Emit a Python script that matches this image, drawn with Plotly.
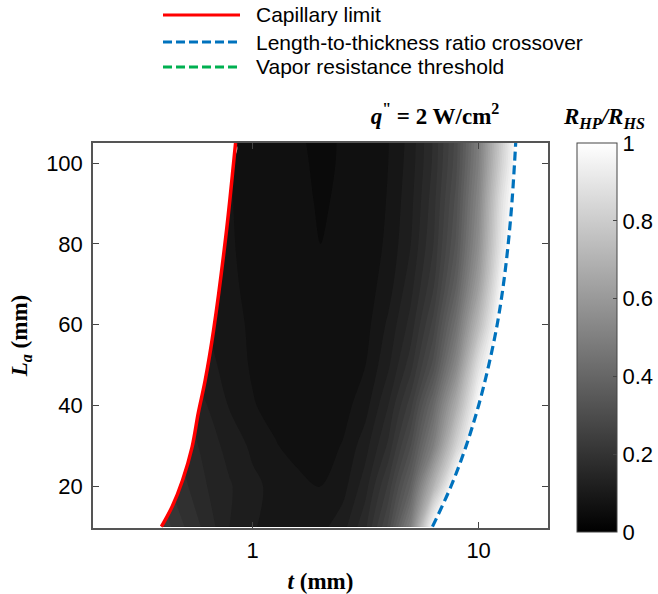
import plotly.graph_objects as go

# ---------------- data ----------------
t_mm = [0.2, 0.25, 0.32, 0.4, 0.5, 0.63, 0.79, 1.0, 1.26, 1.58, 2.0, 2.51, 3.16,
        3.98, 5.01, 6.31, 7.94, 10.0, 12.6, 15.8, 20.0]
La_mm = [10, 20, 30, 40, 50, 60, 70, 80, 90, 100, 105]

ratio_L10 = [0.26, 0.26, 0.25, 0.24, 0.20, 0.165, 0.125, 0.102, 0.092, 0.088, 0.092, 0.115, 0.17, 0.28, 0.50, 1.0, 1.2, 1.2, 1.2, 1.2, 1.2]
ratio_L20 = [0.23, 0.23, 0.22, 0.21, 0.18, 0.15, 0.128, 0.106, 0.093, 0.083, 0.074, 0.09, 0.14, 0.23, 0.38, 0.70, 1.05, 1.2, 1.2, 1.2, 1.2]
ratio_L30 = [0.2, 0.2, 0.2, 0.19, 0.165, 0.14, 0.115, 0.095, 0.077, 0.065, 0.062, 0.077, 0.115, 0.18, 0.30, 0.50, 0.82, 1.1, 1.2, 1.2, 1.2]
ratio_L40 = [0.17, 0.17, 0.17, 0.165, 0.15, 0.125, 0.098, 0.077, 0.066, 0.06, 0.058, 0.065, 0.09, 0.15, 0.24, 0.41, 0.67, 1.0, 1.15, 1.2, 1.2]
ratio_L50 = [0.15, 0.15, 0.15, 0.145, 0.13, 0.11, 0.088, 0.072, 0.062, 0.056, 0.054, 0.058, 0.075, 0.12, 0.19, 0.31, 0.53, 0.88, 1.1, 1.2, 1.2]
ratio_L60 = [0.13, 0.13, 0.13, 0.125, 0.115, 0.1, 0.085, 0.07, 0.06, 0.054, 0.052, 0.055, 0.066, 0.105, 0.16, 0.26, 0.44, 0.73, 1.05, 1.2, 1.2]
ratio_L70 = [0.12, 0.12, 0.12, 0.115, 0.105, 0.095, 0.08, 0.068, 0.058, 0.053, 0.051, 0.053, 0.062, 0.088, 0.14, 0.22, 0.37, 0.62, 0.97, 1.15, 1.2]
ratio_L80 = [0.11, 0.11, 0.11, 0.105, 0.1, 0.09, 0.078, 0.066, 0.057, 0.052, 0.05, 0.052, 0.06, 0.08, 0.125, 0.2, 0.33, 0.56, 0.91, 1.15, 1.2]
ratio_L90 = [0.1, 0.1, 0.1, 0.1, 0.095, 0.088, 0.077, 0.065, 0.058, 0.055, 0.048, 0.053, 0.058, 0.077, 0.118, 0.19, 0.31, 0.53, 0.88, 1.12, 1.2]
ratio_L100 = [0.095, 0.095, 0.095, 0.095, 0.09, 0.085, 0.076, 0.064, 0.057, 0.054, 0.046, 0.052, 0.057, 0.075, 0.112, 0.18, 0.29, 0.5, 0.82, 1.1, 1.2]
ratio_L105 = [0.095, 0.095, 0.095, 0.09, 0.088, 0.083, 0.075, 0.064, 0.057, 0.053, 0.045, 0.052, 0.056, 0.074, 0.11, 0.178, 0.285, 0.49, 0.8, 1.1, 1.2]

# Capillary limit (red solid)
cap_t = [0.395, 0.441, 0.49, 0.54, 0.575, 0.617, 0.672, 0.767, 0.824, 0.841]
cap_L = [10, 15, 21.5, 29.7, 38.1, 46.2, 58.6, 83.4, 100, 105]

# Length-to-thickness ratio crossover (blue dashed)
cross_t = [6.25, 7.55, 8.81, 10.0, 11.09, 12.08, 12.88, 13.52, 14.03, 14.42, 14.59]
cross_L = [10, 20, 30, 40, 50, 60, 70, 80, 90, 100, 105]

cbar_ticks = [0, 0.2, 0.4, 0.6, 0.8, 1]
cbar_ticktext = ["0", "0.2", "0.4", "0.6", "0.8", "1"]
x_ticks = [1, 10]
x_ticktext = ["1", "10"]
y_ticks = [20, 40, 60, 80, 100]

legend_labels = ["Capillary limit", "Length-to-thickness ratio crossover",
                 "Vapor resistance threshold"]
legend_colors = ["#FF0000", "#0072BD", "#00B050"]
legend_dash = ["solid", "9px,4px", "9px,4px"]

# ---------------- figure ----------------
z = [ratio_L10, ratio_L20, ratio_L30, ratio_L40, ratio_L50, ratio_L60,
     ratio_L70, ratio_L80, ratio_L90, ratio_L100, ratio_L105]

gray = [[0, "rgb(0,0,0)"], [1, "rgb(255,255,255)"]]

SANS = "Liberation Sans, Arial, sans-serif"
SERIF = "Liberation Serif, Times New Roman, serif"

fig = go.Figure()
fig.add_trace(go.Contour(
    x=t_mm, y=La_mm, z=z,
    colorscale=gray, zmin=0, zmax=1, zauto=False,
    contours=dict(start=0, end=1, size=0.025, coloring="fill", showlines=False),
    line=dict(width=0, smoothing=1),
    showscale=False, hoverinfo="skip",
))

# white masks outside the valid region
fig.add_trace(go.Scatter(
    x=cap_t + [0.1, 0.1], y=cap_L + [cap_L[-1] + 10, cap_L[0] - 10],
    fill="toself", fillcolor="white", line=dict(width=0, shape="spline"), mode="lines",
    showlegend=False, hoverinfo="skip"))
fig.add_trace(go.Scatter(
    x=cross_t + [40, 40], y=cross_L + [cross_L[-1] + 10, cross_L[0] - 10],
    fill="toself", fillcolor="white", line=dict(width=0), mode="lines",
    showlegend=False, hoverinfo="skip"))

fig.add_trace(go.Scatter(x=cap_t, y=cap_L, mode="lines", name=legend_labels[0],
                         line=dict(color=legend_colors[0], width=3.5, shape="spline"),
                         showlegend=False))
fig.add_trace(go.Scatter(x=cross_t, y=cross_L, mode="lines", name=legend_labels[1],
                         line=dict(color=legend_colors[1], width=3.2, dash="9px,5px",
                                   shape="spline"),
                         showlegend=False))

W, H = 658, 594
L_M, R_M, T_M, B_M = 93, 110, 143, 66
pw, ph = W - L_M - R_M, H - T_M - B_M


def px(xp):
    return (xp - L_M) / pw


def py(yp):
    return (H - B_M - yp) / ph


# continuous colorbar
fig.add_trace(go.Scatter(
    x=[None, None], y=[None, None], mode="markers", showlegend=False,
    marker=dict(color=[0, 1], colorscale=gray, cmin=0, cmax=1, showscale=True,
                colorbar=dict(
                    x=px(577), xanchor="left", xpad=0,
                    y=1.0, yanchor="top", ypad=0,
                    len=389, lenmode="pixels", thickness=40, thicknessmode="pixels",
                    outlinewidth=1, outlinecolor="#444",
                    tickvals=cbar_ticks, ticktext=cbar_ticktext,
                    ticks="inside", ticklen=4, tickcolor="#444",
                    tickfont=dict(family=SANS, size=22, color="black"),
                ))))

shapes = []
annotations = []
leg_y = [15, 42, 67]
for lab, col, ds, yy in zip(legend_labels, legend_colors, legend_dash, leg_y):
    shapes.append(dict(type="line", xref="paper", yref="paper",
                       x0=px(163), x1=px(240), y0=py(yy), y1=py(yy),
                       line=dict(color=col, width=3.2, dash=ds)))
    annotations.append(dict(text=lab, xref="paper", yref="paper", x=px(254), y=py(yy),
                            xanchor="left", yanchor="middle", showarrow=False,
                            font=dict(family=SANS, size=21, color="black")))

annotations.append(dict(text="<b><i>R<sub>HP</sub>/R<sub>HS</sub></i></b>",
                        xref="paper", yref="paper", x=px(604), y=py(118),
                        xanchor="center", yanchor="middle", showarrow=False,
                        font=dict(family=SERIF, size=23, color="black")))

fig.update_layout(
    width=W, height=H,
    margin=dict(l=L_M, r=R_M, t=T_M, b=B_M, autoexpand=False),
    paper_bgcolor="white", plot_bgcolor="white",
    showlegend=False,
    title=dict(text="<b><i>q</i><sup>\"</sup> = 2 W/cm<sup>2</sup></b>",
               xref="paper", x=px(435), xanchor="center",
               yref="container", y=(H - 116) / H, yanchor="middle",
               font=dict(family=SERIF, size=23, color="black")),
    shapes=shapes, annotations=annotations,
    xaxis=dict(type="log", range=[-0.706, 1.307], automargin=False,
               tickvals=x_ticks, ticktext=x_ticktext,
               ticks="inside", ticklen=6, tickcolor="#444", mirror="ticks",
               showline=True, linecolor="#555", linewidth=1.5,
               showgrid=False, zeroline=False, ticklabelstandoff=2,
               tickfont=dict(family=SANS, size=22, color="black"),
               title=dict(text="<b><i>t</i> (mm)</b>", standoff=12,
                          font=dict(family=SERIF, size=23, color="black"))),
    yaxis=dict(range=[9.66, 105], automargin=False,
               tickvals=y_ticks,
               ticks="inside", ticklen=6, tickcolor="#444", mirror="ticks",
               showline=True, linecolor="#555", linewidth=1.5,
               showgrid=False, zeroline=False, ticklabelstandoff=4,
               tickfont=dict(family=SANS, size=22, color="black"),
               title=dict(text="<b><i>L<sub>a</sub></i> (mm)</b>", standoff=12,
                          font=dict(family=SERIF, size=23, color="black"))),
)

fig.write_html("out.html")
